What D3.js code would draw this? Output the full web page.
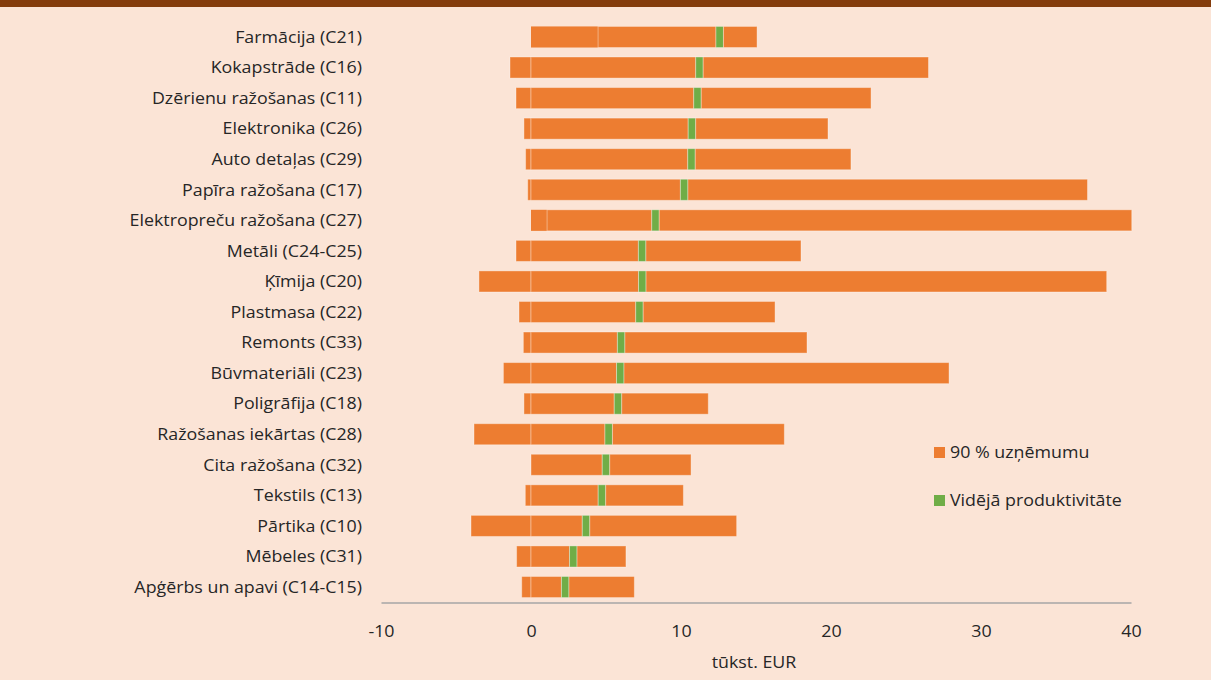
<!DOCTYPE html>
<html>
<head>
<meta charset="utf-8">
<script src="https://cdn.jsdelivr.net/npm/d3@7"></script>
<style>
  html, body { margin: 0; padding: 0; background: #FBE4D6; }
  svg { display: block; }
  text { font-family: "Open Sans", "Noto Sans", sans-serif; fill: #262626; }
</style>
</head>
<body>
<svg id="chart" width="1211" height="680"></svg>
<script>
// Industry sectors, top to bottom
const categories = [
  "Farmācija (C21)", "Kokapstrāde (C16)", "Dzērienu ražošanas (C11)", "Elektronika (C26)",
  "Auto detaļas (C29)", "Papīra ražošana (C17)", "Elektropreču ražošana (C27)", "Metāli (C24-C25)",
  "Ķīmija (C20)", "Plastmasa (C22)", "Remonts (C33)", "Būvmateriāli (C23)",
  "Poligrāfija (C18)", "Ražošanas iekārtas (C28)", "Cita ražošana (C32)", "Tekstils (C13)",
  "Pārtika (C10)", "Mēbeles (C31)", "Apģērbs un apavi (C14-C15)"
];
// Lower bound of the 90 % firm range, thousand EUR
const lowValues = [4.47, -1.4, -1.0, -0.47, -0.36, -0.22, 1.07, -1.0, -3.47, -0.8,
                   -0.51, -1.84, -0.47, -3.8, 0.0, -0.38, -4.0, -0.96, -0.62];
// Average productivity, thousand EUR
const avgValues = [12.58, 11.23, 11.1, 10.73, 10.7, 10.21, 8.3, 7.41, 7.42, 7.23,
                   6.01, 5.95, 5.8, 5.18, 5.0, 4.73, 3.67, 2.82, 2.28];
// Upper bound of the 90 % firm range, thousand EUR
const highValues = [15.07, 26.5, 22.67, 19.8, 21.33, 37.1, 40.05, 18.0, 38.38, 16.27,
                    18.4, 27.87, 11.82, 16.89, 10.67, 10.16, 13.71, 6.33, 6.89];
const xTicks = [-10, 0, 10, 20, 30, 40];
const seriesNames = ["90 % uzņēmumu", "Vidējā produktivitāte"];

const ORANGE = "#ED7D31", GREEN = "#70AD47";
const markWidth = 0.5;   // width of the average marker, thousand EUR
const FONT = 16.5;
const STRETCH = 1.08;    // horizontal widening of the text glyphs

const svg = d3.select("#chart");

// dark header strip
svg.append("rect").attr("x", 0).attr("y", 0).attr("width", 1211).attr("height", 7).attr("fill", "#843C0C");

const x = d3.scaleLinear().domain([-10, 40]).range([381, 1131]);
const y = d3.scaleBand().domain(categories).range([21.7, 602.3]).paddingInner(0.31).paddingOuter(0.155);

// build stacked segments for each sector
const segments = [];
categories.forEach((c, i) => {
  const lo = lowValues[i], av = avgValues[i], hi = highValues[i];
  if (lo < 0) segments.push({ c, a: lo, b: 0, fill: ORANGE, edge: true });
  if (lo > 0) segments.push({ c, a: 0, b: lo, fill: ORANGE, edge: false });
  segments.push({ c, a: Math.max(lo, 0), b: av - markWidth / 2, fill: ORANGE, edge: true });
  segments.push({ c, a: av - markWidth / 2, b: av + markWidth / 2, fill: GREEN, edge: true });
  segments.push({ c, a: av + markWidth / 2, b: hi, fill: ORANGE, edge: true });
});

svg.append("g").selectAll("rect").data(segments).join("rect")
  .attr("x", d => x(d.a))
  .attr("y", d => y(d.c))
  .attr("width", d => x(d.b) - x(d.a))
  .attr("height", y.bandwidth())
  .attr("fill", d => d.fill)
  .attr("stroke", d => d.edge ? "rgba(255,255,255,0.35)" : "none")
  .attr("stroke-width", 1);

// helper: text placed at (tx, ty), widened horizontally
function label(parent, tx, ty, str, anchor) {
  return parent.append("text")
    .attr("transform", `translate(${tx},${ty}) scale(${STRETCH},1)`)
    .attr("dy", "0.35em")
    .attr("text-anchor", anchor)
    .attr("font-size", FONT)
    .text(str);
}

// category labels
const labels = svg.append("g");
categories.forEach(c => label(labels, 362, y(c) + y.bandwidth() / 2, c, "end"));

// x axis
const axisY = 602.5;
const xAxis = svg.append("g").attr("transform", `translate(0,${axisY})`)
  .call(d3.axisBottom(x).tickValues(xTicks).tickSize(0).tickPadding(23).tickFormat(d => String(d)));
xAxis.select(".domain").attr("stroke", "#A6A6A6").attr("stroke-width", 1.3);
xAxis.selectAll(".tick text")
  .attr("font-size", FONT).attr("fill", "#262626")
  .attr("transform", `scale(${STRETCH},1)`)
  .attr("x", 0)
  .style("font-family", "'Open Sans', 'Noto Sans', sans-serif");

label(svg, 754, 662, "tūkst. EUR", "middle");

// legend
const legend = svg.append("g");
[ORANGE, GREEN].forEach((col, i) => {
  const ly = 447 + i * 48;
  legend.append("rect").attr("x", 934).attr("y", ly).attr("width", 11).attr("height", 11).attr("fill", col);
  label(legend, 950, ly + 5.5, seriesNames[i], "start");
});
</script>
</body>
</html>
